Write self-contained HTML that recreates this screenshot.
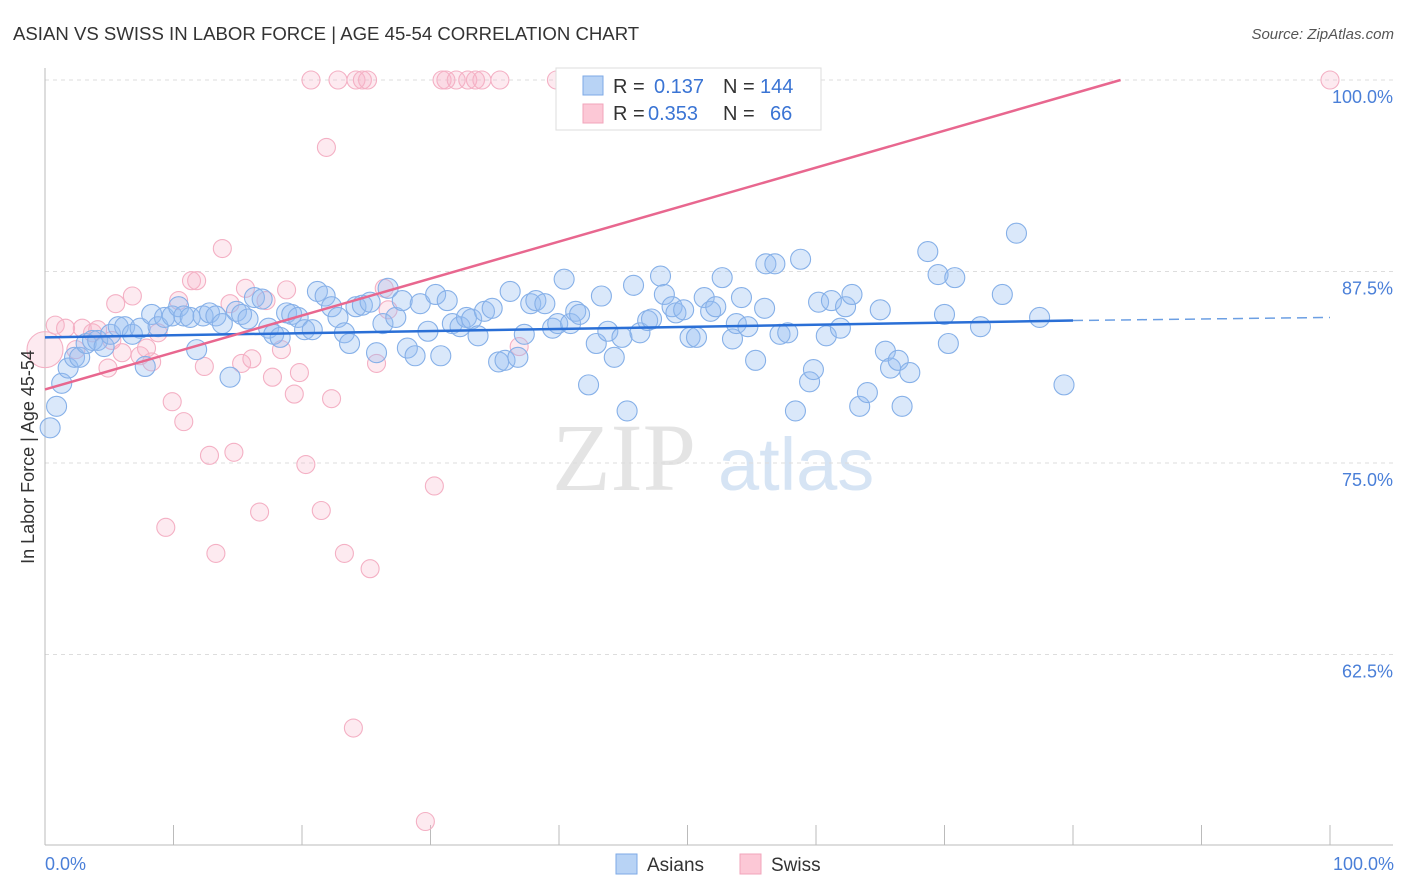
<!DOCTYPE html>
<html><head><meta charset="utf-8"><style>
body{margin:0;background:#fff;font-family:"Liberation Sans",sans-serif;}
svg{display:block}
</style></head><body>
<svg width="1406" height="892" xmlns="http://www.w3.org/2000/svg" font-family="Liberation Sans, sans-serif">
<text x="13" y="40" font-size="18.6" fill="#333">ASIAN VS SWISS IN LABOR FORCE | AGE 45-54 CORRELATION CHART</text>
<text x="1394" y="39" font-size="15" fill="#555" font-style="italic" text-anchor="end">Source: ZipAtlas.com</text>
<g>
<text x="552" y="490" font-size="96" font-family="Liberation Serif, serif" fill="#e4e4e4">ZIP</text>
<text x="718" y="490" font-size="74" fill="#d6e4f4">atlas</text>
</g>
<g id="grid"></g>
<g id="axes"></g>
<g id="pink"></g>
<g id="blue"></g>
<g id="lines"></g>
<text transform="translate(34,457) rotate(-90)" font-size="18" fill="#333" text-anchor="middle">In Labor Force | Age 45-54</text>
<text x="45" y="870" font-size="18" fill="#4a7fd8">0.0%</text>
<text x="1394" y="870" font-size="18" fill="#4a7fd8" text-anchor="end">100.0%</text>
<g>
<rect x="556" y="68" width="265" height="62" fill="#fff" stroke="#ddd"/>
<rect x="583" y="76" width="20" height="19" fill="#b8d3f5" stroke="#7eaae6"/>
<rect x="583" y="104" width="20" height="19" fill="#fcc8d6" stroke="#f2a4bb"/>
<text x="613" y="93" font-size="20" fill="#333">R = </text><text x="654" y="93" font-size="20" fill="#3a74d4">0.137</text>
<text x="723" y="93" font-size="20" fill="#333">N = </text><text x="760" y="93" font-size="20" fill="#3a74d4">144</text>
<text x="613" y="120" font-size="20" fill="#333">R = </text><text x="648" y="120" font-size="20" fill="#3a74d4">0.353</text>
<text x="723" y="120" font-size="20" fill="#333">N = </text><text x="770" y="120" font-size="20" fill="#3a74d4">66</text>
</g>
<g>
<rect x="616" y="854" width="21" height="20" fill="#b8d3f5" stroke="#7eaae6"/>
<text x="647" y="871" font-size="19" fill="#333">Asians</text></g>
<g>
<rect x="740" y="854" width="21" height="20" fill="#fcc8d6" stroke="#f2a4bb"/>
<text x="771" y="871" font-size="19" fill="#333">Swiss</text></g>
</svg>
<script>
const yTicks=[100,87.5,75,62.5];
const yTickLabels=["100.0%","87.5%","75.0%","62.5%"];
const xTicks=[0,10,20,30,40,50,60,70,80,90,100];
const blueX=[0.4,0.9,1.3,1.8,2.3,2.7,3.2,3.7,4.1,4.6,5.1,5.7,6.2,6.8,7.4,7.8,8.3,8.8,9.3,9.9,10.4,10.8,11.3,11.8,12.3,12.8,13.3,13.8,14.4,14.9,15.3,15.8,16.3,16.9,17.4,17.8,18.3,18.8,19.2,19.7,20.2,20.8,21.2,21.8,22.3,22.8,23.3,23.7,24.2,24.7,25.3,25.8,26.3,26.7,27.3,27.8,28.2,28.8,29.2,29.8,30.4,30.8,31.3,31.7,32.3,32.8,33.2,33.7,34.2,34.8,35.3,35.8,36.2,36.8,37.3,37.8,38.2,38.9,39.5,39.9,40.4,40.9,41.3,41.6,42.3,42.9,43.3,43.8,44.3,44.9,45.3,45.8,46.3,46.9,47.2,47.9,48.2,48.8,49.1,49.7,50.2,50.7,51.3,51.8,52.2,52.7,53.5,53.8,54.2,54.7,55.3,56.0,56.1,56.8,57.2,57.8,58.4,58.8,59.5,59.8,60.2,60.8,61.2,61.9,62.3,62.8,63.4,64.0,65.0,65.4,65.8,66.4,66.7,67.3,68.7,69.5,70.0,70.3,70.8,72.8,74.5,75.6,77.4,79.3];
const blueY=[77.3,78.7,80.2,81.2,81.9,81.9,82.8,83.0,83.0,82.6,83.4,83.9,83.9,83.4,83.8,81.3,84.7,83.9,84.5,84.6,85.2,84.6,84.5,82.4,84.6,84.8,84.6,84.1,80.6,84.9,84.7,84.4,85.8,85.7,83.8,83.4,83.2,84.8,84.7,84.5,83.7,83.7,86.2,85.9,85.2,84.5,83.5,82.8,85.2,85.3,85.5,82.2,84.1,86.4,84.5,85.6,82.5,82.0,85.4,83.6,86.0,82.0,85.6,84.1,83.9,84.5,84.4,83.3,84.9,85.1,81.6,81.7,86.2,81.9,83.4,85.4,85.6,85.4,83.8,84.1,87.0,84.1,84.9,84.7,80.1,82.8,85.9,83.6,81.9,83.2,78.4,86.6,83.5,84.3,84.4,87.2,86.0,85.2,84.8,85.0,83.2,83.2,85.8,84.9,85.2,87.1,83.1,84.1,85.8,83.9,81.7,85.1,88.0,88.0,83.4,83.5,78.4,88.3,80.3,81.1,85.5,83.3,85.6,83.8,85.2,86.0,78.7,79.6,85.0,82.3,81.2,81.7,78.7,80.9,88.8,87.3,84.7,82.8,87.1,83.9,86.0,90.0,84.5,80.1];
const pinkX=[0,0.8,1.6,2.4,2.9,3.7,4.1,4.9,5.2,5.5,6.0,6.8,7.4,7.9,8.3,8.8,9.4,9.9,10.4,10.8,11.4,11.8,12.4,12.8,13.3,13.8,14.4,14.7,15.3,15.6,16.1,16.7,17.2,17.7,18.8,18.4,19.4,19.8,20.3,20.7,21.5,21.9,22.3,22.8,23.3,24.2,24.7,25.1,25.3,25.8,26.4,26.7,24.0,29.6,30.3,30.9,31.2,32.0,32.9,33.5,34.0,35.4,36.9,39.8,40.9,47.4,100];
const pinkY=[82.4,84.0,83.8,82.4,83.8,83.5,83.7,81.2,83.0,85.4,82.2,85.9,82.0,82.5,81.6,83.5,70.8,79.0,85.6,77.7,86.9,86.9,81.3,75.5,69.1,89.0,85.4,75.7,81.5,86.4,81.8,71.8,85.6,80.6,86.3,82.4,79.5,80.9,74.9,100,71.9,95.6,79.2,100,69.1,100,100,100,68.1,81.5,86.4,85.0,57.7,51.6,73.5,100,100,100,100,100,100,100,82.6,100,100,100,100];
const blueLine=[[0,83.2],[80,84.3],[100,84.5]];
const pinkLine=[[0,79.8],[83.7,100]];
const NS="http://www.w3.org/2000/svg";
const X0=45,X1=1330,Ytop=80,Yslope=15.32;
function sx(v){return X0+(X1-X0)*v/100;}
function sy(v){return Ytop+(100-v)*Yslope;}
function mk(tag,attrs,parent){const e=document.createElementNS(NS,tag);for(const k in attrs)e.setAttribute(k,attrs[k]);document.getElementById(parent).appendChild(e);return e;}
yTicks.forEach((t,i)=>{
 const g=mk('line',{x1:45,x2:1393,y1:sy(t),y2:sy(t),stroke:'#ddd','stroke-dasharray':'4 4'},'grid');
 
 
 const l=mk('text',{x:1393,y:sy(t)+23,'font-size':18,fill:'#4a7fd8','text-anchor':'end'},'grid');
 l.textContent=yTickLabels[i];
 
 
});
const ya=mk('line',{x1:45,x2:45,y1:68,y2:845,stroke:'#bbb'},'axes');


const xa=mk('line',{x1:45,x2:1393,y1:845,y2:845,stroke:'#bbb'},'axes');


xTicks.forEach(t=>{
 const tk=mk('line',{x1:sx(t),x2:sx(t),y1:825,y2:845,stroke:'#bbb'},'axes');
 
 
});
pinkX.forEach((x,i)=>{
 const c=mk('circle',{cx:sx(x),cy:sy(pinkY[i]),r:i===0?18:9,fill:'rgba(248,180,200,0.28)',stroke:'#f4b0c4','stroke-width':1.1},'pink');
 
 
});
blueX.forEach((x,i)=>{
 const c=mk('circle',{cx:sx(x),cy:sy(blueY[i]),r:10,fill:'rgba(150,190,240,0.35)',stroke:'#86b0e8','stroke-width':1.1},'blue');
 
 
});
const bl=mk('line',{x1:sx(blueLine[0][0]),y1:sy(blueLine[0][1]),x2:sx(blueLine[1][0]),y2:sy(blueLine[1][1]),stroke:'#2a6fd6','stroke-width':2.5},'lines');


const bd=mk('line',{x1:sx(blueLine[1][0]),y1:sy(blueLine[1][1]),x2:sx(blueLine[2][0]),y2:sy(blueLine[2][1]),stroke:'#6c9fe3','stroke-width':1.5,'stroke-dasharray':'10 6'},'lines');


const pl=mk('line',{x1:sx(pinkLine[0][0]),y1:sy(pinkLine[0][1]),x2:sx(pinkLine[1][0]),y2:sy(pinkLine[1][1]),stroke:'#e8678f','stroke-width':2.5},'lines');


</script>
</body></html>
